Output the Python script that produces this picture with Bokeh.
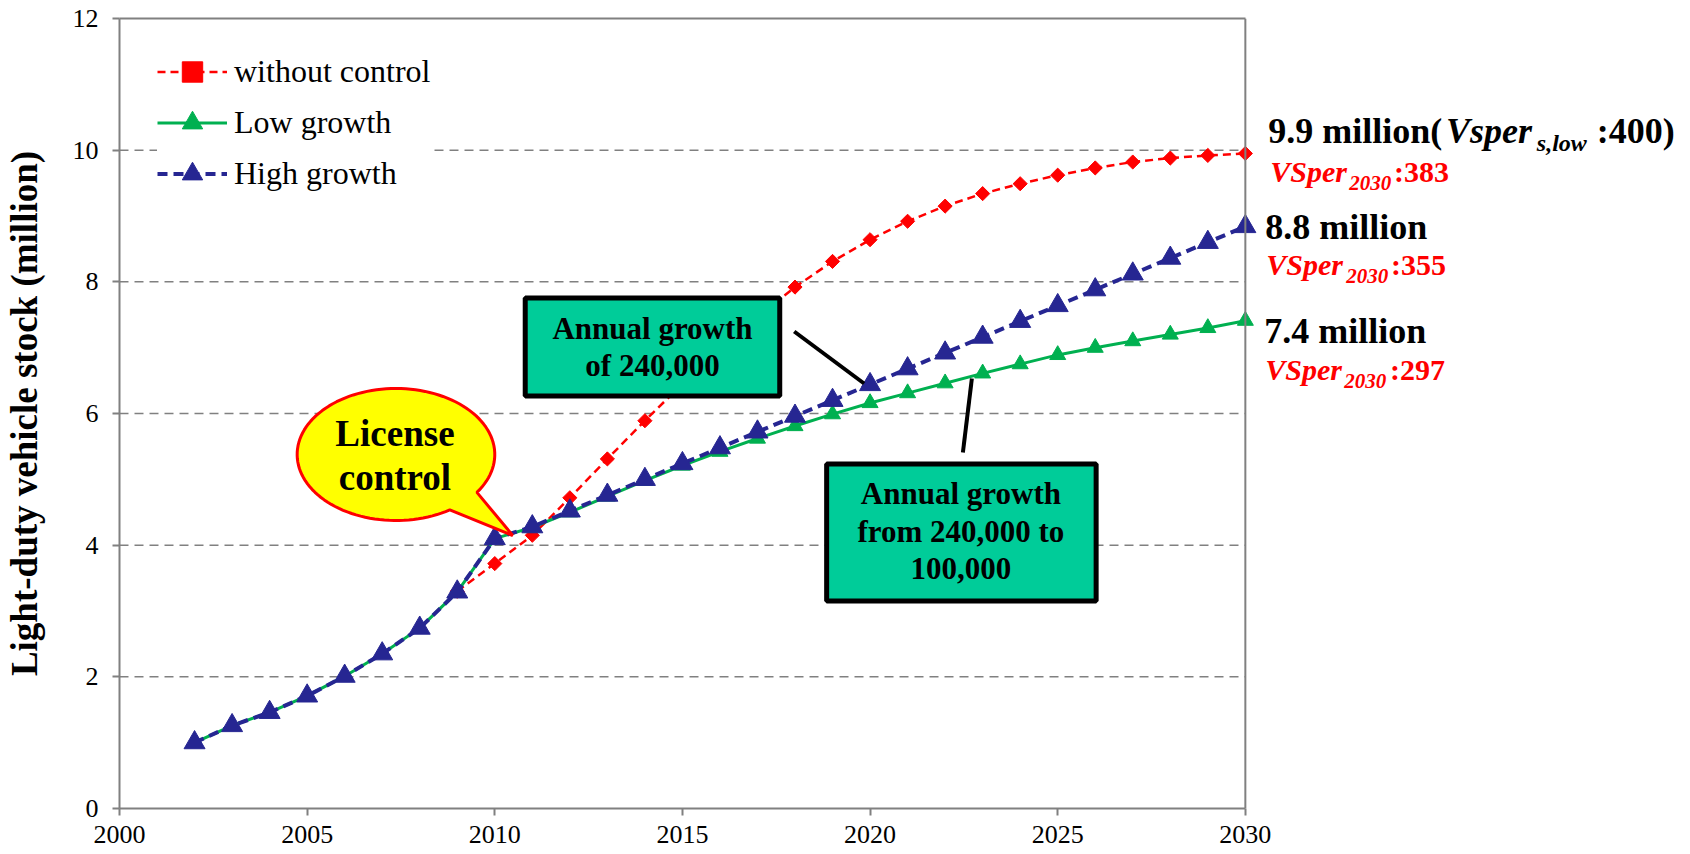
import numpy as np
from bokeh.plotting import figure
from bokeh.models import (Range1d, Legend, LegendItem, Label, BoxAnnotation,
                          FixedTicker, Arrow, PolyAnnotation, Span, LinearAxis)
from bokeh.embed import file_html
from bokeh.resources import INLINE

# ---------------- data ----------------
years = [2002, 2003, 2004, 2005, 2006, 2007, 2008, 2009, 2010, 2011, 2012, 2013,
         2014, 2015, 2016, 2017, 2018, 2019, 2020, 2021, 2022, 2023, 2024, 2025,
         2026, 2027, 2028, 2029, 2030]
high_growth = [1.00, 1.26, 1.46, 1.71, 2.01, 2.35, 2.74, 3.29, 4.10, 4.28, 4.52, 4.76,
               5.00, 5.24, 5.48, 5.72, 5.96, 6.20, 6.44, 6.68, 6.92, 7.16, 7.40, 7.64,
               7.88, 8.12, 8.36, 8.60, 8.84]
low_growth = [1.00, 1.26, 1.46, 1.71, 2.01, 2.35, 2.74, 3.29, 4.10, 4.27, 4.50, 4.74,
              4.98, 5.21, 5.42, 5.62, 5.81, 5.99, 6.16, 6.31, 6.46, 6.61, 6.75, 6.89,
              7.00, 7.10, 7.20, 7.30, 7.41]
years_nc = [2009, 2010, 2011, 2012, 2013, 2014, 2015, 2016, 2017, 2018, 2019, 2020,
            2021, 2022, 2023, 2024, 2025, 2026, 2027, 2028, 2029, 2030]
no_control = [3.30, 3.72, 4.15, 4.72, 5.31, 5.89, 6.45, 6.98, 7.47, 7.92, 8.31, 8.64,
              8.92, 9.15, 9.34, 9.49, 9.62, 9.73, 9.82, 9.88, 9.92, 9.95]
x_ticks = [2000, 2005, 2010, 2015, 2020, 2025, 2030]
y_ticks = [0, 2, 4, 6, 8, 10, 12]
series_names = ["without control", "Low growth", "High growth"]

# ---------------- layout ----------------
W, H = 1690, 854
BL, BR, BT, BB = 116, 0, 18, 46
PLOT_W = 1128                        # pixels covering 2000..2030
FX0, FY0 = BL, BT                    # frame top-left on the canvas
FW, FH = W - BL - BR, H - BT - BB    # frame size (extends right for side texts)
X0, X1, Y0, Y1 = x_ticks[0], x_ticks[-1], y_ticks[0], y_ticks[-1]
X_END = X0 + FW * (X1 - X0) / PLOT_W

def dx(px):
    return X0 + (px - FX0) * (X1 - X0) / PLOT_W

def dy(py):
    return Y0 + (FY0 + FH - py) * (Y1 - Y0) / FH

SERIF = "Liberation Serif"
RED, GREEN, BLUE, GRAY = "#FF0000", "#00B050", "#262692", "#808080"

p = figure(width=W, height=H, x_range=Range1d(X0, X_END), y_range=Range1d(Y0, Y1),
           output_backend="svg", toolbar_location=None,
           min_border_left=BL, min_border_right=BR, min_border_top=BT,
           min_border_bottom=BB)
p.background_fill_color = "white"
p.border_fill_color = "white"
p.outline_line_color = None

p.xaxis.ticker = FixedTicker(ticks=x_ticks)
p.yaxis.ticker = FixedTicker(ticks=y_ticks)
p.xaxis.bounds = (X0, X1)
for ax in (p.xaxis[0], p.yaxis[0]):
    ax.axis_line_color = GRAY
    ax.axis_line_width = 2
    ax.major_tick_line_color = GRAY
    ax.major_tick_line_width = 2
    ax.major_tick_in = 0
    ax.major_tick_out = 7
    ax.minor_tick_line_color = None
    ax.major_label_text_font = SERIF
    ax.major_label_text_font_size = "26px"
    ax.major_label_text_color = "black"
p.xaxis.major_label_standoff = 10
p.yaxis.major_label_standoff = 14
p.yaxis.axis_label = "Light-duty vehicle stock (million)"
p.yaxis.axis_label_text_font = SERIF
p.yaxis.axis_label_text_font_style = "bold"
p.yaxis.axis_label_text_font_size = "37px"
p.yaxis.axis_label_text_color = "black"
p.yaxis.axis_label_standoff = 25

# top border of the plot box
top_ax = LinearAxis(ticker=FixedTicker(ticks=[]), bounds=(X0, X1),
                    axis_line_color=GRAY, axis_line_width=2,
                    major_tick_line_color=None, minor_tick_line_color=None,
                    major_label_text_font_size="0px", major_label_standoff=0)
p.add_layout(top_ax, "above")
# right border of the plot box
p.add_layout(Span(location=X1, dimension="height", line_color=GRAY, line_width=2))

p.xgrid.visible = False
p.ygrid.visible = False
grid_vals = y_ticks[1:-1]
p.multi_line(xs=[[X0, X1] for _ in grid_vals], ys=[[v, v] for v in grid_vals],
             line_color=GRAY, line_width=1.5, line_dash="9 6")

# ---------------- series ----------------
r_nc_l = p.line(years_nc, no_control, line_color=RED, line_width=2.5, line_dash="8 5")
r_nc_m = p.scatter(years_nc, no_control, marker="square", angle=np.pi / 4, size=10,
                   fill_color=RED, line_color=RED)
r_lo_l = p.line(years, low_growth, line_color=GREEN, line_width=3)
r_lo_m = p.scatter(years, low_growth, marker="triangle", size=16,
                   fill_color=GREEN, line_color=GREEN)
r_hi_l = p.line(years, high_growth, line_color=BLUE, line_width=4, line_dash="10 6")
r_hi_m = p.scatter(years, high_growth, marker="triangle", size=21,
                   fill_color=BLUE, line_color=BLUE)

legend = Legend(items=[
    LegendItem(label=series_names[0], renderers=[r_nc_l, r_nc_m]),
    LegendItem(label=series_names[1], renderers=[r_lo_l, r_lo_m]),
    LegendItem(label=series_names[2], renderers=[r_hi_l, r_hi_m]),
], location=(38, FY0 + FH - 199), padding=0, spacing=0, margin=0,
    label_height=51, glyph_height=51, glyph_width=70, label_standoff=7,
    label_text_font=SERIF, label_text_font_size="32px", label_text_color="black",
    background_fill_color="white", background_fill_alpha=1, border_line_alpha=0)
p.add_layout(legend)

# ---------------- annotations ----------------
def add_box(l, t, r, b):
    p.add_layout(BoxAnnotation(left=dx(l), right=dx(r), top=dy(t), bottom=dy(b),
                               fill_color="#00CC99", fill_alpha=1,
                               line_color="black", line_width=5, line_alpha=1))

def add_text(px, py, text, size, style="bold", color="black", align="left"):
    # py is the vertical middle of the text
    p.add_layout(Label(x=dx(px), y=dy(py), text=text, text_font=SERIF,
                       text_font_size=f"{size}px", text_font_style=style,
                       text_color=color, text_align=align, text_baseline="middle"))

def add_leader(x0, y0, x1, y1):
    p.add_layout(Arrow(x_start=dx(x0), y_start=dy(y0), x_end=dx(x1), y_end=dy(y1),
                       start=None, end=None, line_color="black", line_width=4))

# speech bubble "License control"
cx, cy, ax_, ay_ = 393, 454, 99, 66
thA, thB = np.deg2rad(35), np.deg2rad(57)
th = np.linspace(thB, thA + 2 * np.pi, 120)
bx = list(cx + ax_ * np.cos(th)) + [510]
by = list(cy + ay_ * np.sin(th)) + [535]
p.add_layout(PolyAnnotation(xs=[dx(v) for v in bx], ys=[dy(v) for v in by],
                            fill_color="#FFFF00", fill_alpha=1,
                            line_color=RED, line_width=3, line_alpha=1))
add_text(392, 433, "License", 37, align="center")
add_text(392, 477, "control", 37, align="center")

# box 1
add_leader(792, 331, 862, 383)
add_box(522.5, 297.5, 777.5, 395.5)
add_text(650, 328, "Annual growth", 31, align="center")
add_text(650, 365, "of 240,000", 31, align="center")

# box 2
add_leader(970, 378, 961, 452)
add_box(824.5, 463.5, 1094.5, 600.5)
add_text(959, 493, "Annual growth", 31, align="center")
add_text(959, 531, "from 240,000 to", 31, align="center")
add_text(959, 568, "100,000", 31, align="center")

# right-hand texts
add_text(1267, 130, "9.9 million(", 36)
add_text(1445, 130, "Vsper", 36, style="bold italic")
add_text(1536, 142, "s,low", 24, style="bold italic")
add_text(1596, 130, ":400)", 36)
add_text(1264, 226, "8.8 million", 36)
add_text(1263, 330, "7.4 million", 36)

for (x0, ym, xs, xv, val) in [(1269, 171, 1348, 1393, ":383"),
                              (1265, 264, 1345, 1390, ":355"),
                              (1264, 369, 1343, 1389, ":297")]:
    add_text(x0, ym, "VSper", 30, style="bold italic", color=RED)
    add_text(xs, ym + 11, "2030", 21, style="bold italic", color=RED)
    add_text(xv, ym, val, 30, color=RED)

open("out.html", "w").write(file_html(p, INLINE))
